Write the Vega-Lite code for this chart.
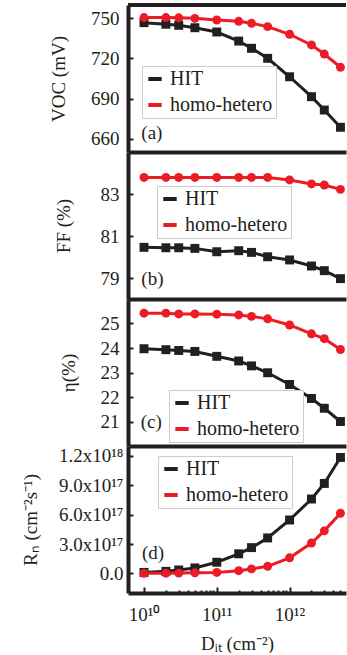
{
  "$schema": "https://vega.github.io/schema/vega-lite/v6.json",
  "padding": {"left": 20, "top": 3, "right": 0, "bottom": 0},
  "background": "white",
  "spacing": 0,
  "config": {
    "view": {"stroke": null},
    "font": "Liberation Serif",
    "style": {"guide-label": {"font": "Liberation Serif"}, "guide-title": {"font": "Liberation Serif"}},
    "axis": {"labelFont": "Liberation Serif", "titleFont": "Liberation Serif", "labelFontSize": 19, "titleFontSize": 19, "titleFontWeight": "normal", "labelColor": "#231f20", "titleColor": "#231f20", "domainColor": "#231f20", "domainWidth": 4, "tickColor": "#231f20", "tickWidth": 2, "grid": false, "labelOverlap": false},
    "legend": {"labelFont": "Liberation Serif", "labelFontSize": 20, "labelColor": "#231f20", "strokeColor": "#cccccc", "fillColor": "white", "padding": 3, "rowPadding": 6, "symbolType": "stroke", "symbolStrokeWidth": 4, "symbolSize": 180, "labelOffset": 5, "orient": "none"}
  },
  "datasets": {
    "voc": [
      {"dit": 1e10, "series": "HIT", "v": 746.8}, {"dit": 2e10, "series": "HIT", "v": 745.6}, {"dit": 3e10, "series": "HIT", "v": 744.8}, {"dit": 5e10, "series": "HIT", "v": 743.0}, {"dit": 1e11, "series": "HIT", "v": 739.8}, {"dit": 2e11, "series": "HIT", "v": 733.0}, {"dit": 3e11, "series": "HIT", "v": 727.6}, {"dit": 5e11, "series": "HIT", "v": 720.1}, {"dit": 1e12, "series": "HIT", "v": 706.3}, {"dit": 2e12, "series": "HIT", "v": 691.4}, {"dit": 3e12, "series": "HIT", "v": 681.4}, {"dit": 5e12, "series": "HIT", "v": 668.5},
      {"dit": 1e10, "series": "homo-hetero", "v": 750.6}, {"dit": 2e10, "series": "homo-hetero", "v": 750.6}, {"dit": 3e10, "series": "homo-hetero", "v": 750.4}, {"dit": 5e10, "series": "homo-hetero", "v": 750.0}, {"dit": 1e11, "series": "homo-hetero", "v": 748.8}, {"dit": 2e11, "series": "homo-hetero", "v": 747.8}, {"dit": 3e11, "series": "homo-hetero", "v": 746.3}, {"dit": 5e11, "series": "homo-hetero", "v": 743.8}, {"dit": 1e12, "series": "homo-hetero", "v": 738.1}, {"dit": 2e12, "series": "homo-hetero", "v": 730.1}, {"dit": 3e12, "series": "homo-hetero", "v": 723.3}, {"dit": 5e12, "series": "homo-hetero", "v": 713.4}
    ],
    "ff": [
      {"dit": 1e10, "series": "HIT", "v": 80.46}, {"dit": 2e10, "series": "HIT", "v": 80.44}, {"dit": 3e10, "series": "HIT", "v": 80.44}, {"dit": 5e10, "series": "HIT", "v": 80.41}, {"dit": 1e11, "series": "HIT", "v": 80.25}, {"dit": 2e11, "series": "HIT", "v": 80.30}, {"dit": 3e11, "series": "HIT", "v": 80.22}, {"dit": 5e11, "series": "HIT", "v": 80.01}, {"dit": 1e12, "series": "HIT", "v": 79.86}, {"dit": 2e12, "series": "HIT", "v": 79.57}, {"dit": 3e12, "series": "HIT", "v": 79.35}, {"dit": 5e12, "series": "HIT", "v": 78.97},
      {"dit": 1e10, "series": "homo-hetero", "v": 83.79}, {"dit": 2e10, "series": "homo-hetero", "v": 83.79}, {"dit": 3e10, "series": "homo-hetero", "v": 83.79}, {"dit": 5e10, "series": "homo-hetero", "v": 83.79}, {"dit": 1e11, "series": "homo-hetero", "v": 83.79}, {"dit": 2e11, "series": "homo-hetero", "v": 83.79}, {"dit": 3e11, "series": "homo-hetero", "v": 83.79}, {"dit": 5e11, "series": "homo-hetero", "v": 83.79}, {"dit": 1e12, "series": "homo-hetero", "v": 83.67}, {"dit": 2e12, "series": "homo-hetero", "v": 83.48}, {"dit": 3e12, "series": "homo-hetero", "v": 83.43}, {"dit": 5e12, "series": "homo-hetero", "v": 83.22}
    ],
    "eta": [
      {"dit": 1e10, "series": "HIT", "v": 23.97}, {"dit": 2e10, "series": "HIT", "v": 23.93}, {"dit": 3e10, "series": "HIT", "v": 23.90}, {"dit": 5e10, "series": "HIT", "v": 23.86}, {"dit": 1e11, "series": "HIT", "v": 23.66}, {"dit": 2e11, "series": "HIT", "v": 23.47}, {"dit": 3e11, "series": "HIT", "v": 23.27}, {"dit": 5e11, "series": "HIT", "v": 22.99}, {"dit": 1e12, "series": "HIT", "v": 22.51}, {"dit": 2e12, "series": "HIT", "v": 21.94}, {"dit": 3e12, "series": "HIT", "v": 21.54}, {"dit": 5e12, "series": "HIT", "v": 21.0},
      {"dit": 1e10, "series": "homo-hetero", "v": 25.42}, {"dit": 2e10, "series": "homo-hetero", "v": 25.42}, {"dit": 3e10, "series": "homo-hetero", "v": 25.39}, {"dit": 5e10, "series": "homo-hetero", "v": 25.39}, {"dit": 1e11, "series": "homo-hetero", "v": 25.38}, {"dit": 2e11, "series": "homo-hetero", "v": 25.35}, {"dit": 3e11, "series": "homo-hetero", "v": 25.29}, {"dit": 5e11, "series": "homo-hetero", "v": 25.19}, {"dit": 1e12, "series": "homo-hetero", "v": 24.94}, {"dit": 2e12, "series": "homo-hetero", "v": 24.58}, {"dit": 3e12, "series": "homo-hetero", "v": 24.38}, {"dit": 5e12, "series": "homo-hetero", "v": 23.94}
    ],
    "rn": [
      {"dit": 1e10, "series": "HIT", "v": 1.0e16}, {"dit": 2e10, "series": "HIT", "v": 2.1e16}, {"dit": 3e10, "series": "HIT", "v": 3.5e16}, {"dit": 5e10, "series": "HIT", "v": 5.6e16}, {"dit": 1e11, "series": "HIT", "v": 1.14e17}, {"dit": 2e11, "series": "HIT", "v": 2.0e17}, {"dit": 3e11, "series": "HIT", "v": 2.63e17}, {"dit": 5e11, "series": "HIT", "v": 3.62e17}, {"dit": 1e12, "series": "HIT", "v": 5.45e17}, {"dit": 2e12, "series": "HIT", "v": 7.59e17}, {"dit": 3e12, "series": "HIT", "v": 9.18e17}, {"dit": 5e12, "series": "HIT", "v": 1.183e18},
      {"dit": 1e10, "series": "homo-hetero", "v": 1e15}, {"dit": 2e10, "series": "homo-hetero", "v": 2e15}, {"dit": 3e10, "series": "homo-hetero", "v": 3e15}, {"dit": 5e10, "series": "homo-hetero", "v": 6e15}, {"dit": 1e11, "series": "homo-hetero", "v": 1.0e16}, {"dit": 2e11, "series": "homo-hetero", "v": 2.8e16}, {"dit": 3e11, "series": "homo-hetero", "v": 4.6e16}, {"dit": 5e11, "series": "homo-hetero", "v": 7.2e16}, {"dit": 1e12, "series": "homo-hetero", "v": 1.59e17}, {"dit": 2e12, "series": "homo-hetero", "v": 3.10e17}, {"dit": 3e12, "series": "homo-hetero", "v": 4.34e17}, {"dit": 5e12, "series": "homo-hetero", "v": 6.14e17}
    ]
  },
  "resolve": {"scale": {"color": "independent"}, "legend": {"color": "independent"}},
  "vconcat": [
    {
      "width": 218, "height": 147,
      "data": {"name": "voc"},
      "layer": [
        {"mark": {"type": "line", "strokeWidth": 3},
         "encoding": {
           "x": {"field": "dit", "type": "quantitative", "scale": {"type": "log", "domain": [6.03e9, 5.96e12], "nice": false}, "axis": {"title": null, "labels": false, "ticks": false}},
           "y": {"field": "v", "type": "quantitative", "scale": {"domain": [650, 760], "nice": false, "zero": false}, "axis": {"title": "VOC (mV)", "values": [660, 690, 720, 750], "format": "d", "tickCount": 12, "tickSize": -5, "labelPadding": 14, "titleX": -70, "titleBaseline": "middle"}},
           "color": {"field": "series", "type": "nominal", "scale": {"domain": ["HIT", "homo-hetero"], "range": ["#231f20", "#ec1c24"]}, "legend": {"title": null, "symbolType": "stroke", "labelFont": "Liberation Serif", "labelFontSize": 20, "legendX": 14, "legendY": 61}}
         }},
        {"transform": [{"filter": "datum.series == 'HIT'"}],
         "mark": {"type": "square", "size": 80, "opacity": 1, "color": "#231f20"},
         "encoding": {"x": {"field": "dit", "type": "quantitative"}, "y": {"field": "v", "type": "quantitative"}}},
        {"transform": [{"filter": "datum.series == 'homo-hetero'"}],
         "mark": {"type": "circle", "size": 80, "opacity": 1, "color": "#ec1c24"},
         "encoding": {"x": {"field": "dit", "type": "quantitative"}, "y": {"field": "v", "type": "quantitative"}}},
        {"data": {"values": [{"label": "(a)"}]},
         "mark": {"type": "text", "align": "left", "baseline": "middle", "fontSize": 19, "font": "Liberation Serif", "color": "#231f20"},
         "encoding": {"x": {"datum": 9.2e9}, "y": {"datum": 664}, "text": {"field": "label"}}},
        {"data": {"values": [{"edge": "top"}]},
         "mark": {"type": "rule", "strokeWidth": 4, "color": "#231f20"},
         "encoding": {"y": {"datum": 760}}}
      ]
    },
    {
      "width": 218, "height": 147,
      "data": {"name": "ff"},
      "layer": [
        {"mark": {"type": "line", "strokeWidth": 3},
         "encoding": {
           "x": {"field": "dit", "type": "quantitative", "scale": {"type": "log", "domain": [6.03e9, 5.96e12], "nice": false}, "axis": {"title": null, "labels": false, "ticks": false}},
           "y": {"field": "v", "type": "quantitative", "scale": {"domain": [78, 85], "nice": false, "zero": false}, "axis": {"title": "FF (%)", "values": [79, 81, 83], "format": "d", "tickCount": 12, "tickSize": -5, "labelPadding": 14, "titleX": -65, "titleBaseline": "middle"}},
           "color": {"field": "series", "type": "nominal", "scale": {"domain": ["HIT", "homo-hetero"], "range": ["#231f20", "#ec1c24"]}, "legend": {"title": null, "symbolType": "stroke", "labelFont": "Liberation Serif", "labelFontSize": 20, "legendX": 29, "legendY": 34}}
         }},
        {"transform": [{"filter": "datum.series == 'HIT'"}],
         "mark": {"type": "square", "size": 80, "opacity": 1, "color": "#231f20"},
         "encoding": {"x": {"field": "dit", "type": "quantitative"}, "y": {"field": "v", "type": "quantitative"}}},
        {"transform": [{"filter": "datum.series == 'homo-hetero'"}],
         "mark": {"type": "circle", "size": 80, "opacity": 1, "color": "#ec1c24"},
         "encoding": {"x": {"field": "dit", "type": "quantitative"}, "y": {"field": "v", "type": "quantitative"}}},
        {"data": {"values": [{"label": "(b)"}]},
         "mark": {"type": "text", "align": "left", "baseline": "middle", "fontSize": 19, "font": "Liberation Serif", "color": "#231f20"},
         "encoding": {"x": {"datum": 9.2e9}, "y": {"datum": 78.95}, "text": {"field": "label"}}}
      ]
    },
    {
      "width": 218, "height": 147,
      "data": {"name": "eta"},
      "layer": [
        {"mark": {"type": "line", "strokeWidth": 3},
         "encoding": {
           "x": {"field": "dit", "type": "quantitative", "scale": {"type": "log", "domain": [6.03e9, 5.96e12], "nice": false}, "axis": {"title": null, "labels": false, "ticks": false}},
           "y": {"field": "v", "type": "quantitative", "scale": {"domain": [20, 26], "nice": false, "zero": false}, "axis": {"title": "\u03b7(%)", "values": [21, 22, 23, 24, 25], "format": "d", "tickCount": 12, "tickSize": -5, "labelPadding": 14, "titleX": -60, "titleBaseline": "middle"}},
           "color": {"field": "series", "type": "nominal", "scale": {"domain": ["HIT", "homo-hetero"], "range": ["#231f20", "#ec1c24"]}, "legend": {"title": null, "symbolType": "stroke", "labelFont": "Liberation Serif", "labelFontSize": 20, "legendX": 41, "legendY": 91}}
         }},
        {"transform": [{"filter": "datum.series == 'HIT'"}],
         "mark": {"type": "square", "size": 80, "opacity": 1, "color": "#231f20"},
         "encoding": {"x": {"field": "dit", "type": "quantitative"}, "y": {"field": "v", "type": "quantitative"}}},
        {"transform": [{"filter": "datum.series == 'homo-hetero'"}],
         "mark": {"type": "circle", "size": 80, "opacity": 1, "color": "#ec1c24"},
         "encoding": {"x": {"field": "dit", "type": "quantitative"}, "y": {"field": "v", "type": "quantitative"}}},
        {"data": {"values": [{"label": "(c)"}]},
         "mark": {"type": "text", "align": "left", "baseline": "middle", "fontSize": 19, "font": "Liberation Serif", "color": "#231f20"},
         "encoding": {"x": {"datum": 9.0e9}, "y": {"datum": 20.97}, "text": {"field": "label"}}}
      ]
    },
    {
      "width": 218, "height": 147,
      "data": {"name": "rn"},
      "resolve": {"axis": {"x": "independent"}},
      "layer": [
        {"mark": {"type": "line", "strokeWidth": 3},
         "encoding": {
           "x": {"field": "dit", "type": "quantitative", "scale": {"type": "log", "domain": [6.03e9, 5.96e12], "nice": false}, "axis": {"orient": "bottom", "title": "D\u1d62\u209c (cm\u207b\u00b2)", "values": [1e10, 1e11, 1e12], "tickCount": 12, "labelExpr": "'10' + (datum.value < 5e10 ? '\u00b9\u2070' : datum.value < 5e11 ? '\u00b9\u00b9' : '\u00b9\u00b2')", "tickSize": -6, "labelPadding": 18, "titlePadding": 10, "labelFlush": false}},
           "y": {"field": "v", "type": "quantitative", "scale": {"domain": [-2e17, 1.3e18], "nice": false, "zero": false}, "axis": {"title": "R\u2099 (cm\u207b\u00b2s\u207b\u00b9)", "values": [0, 3e17, 6e17, 9e17, 1.2e18], "tickCount": 12, "labelExpr": "datum.value == 0 ? '0.0' : datum.value >= 1e18 ? format(datum.value / 1e18, '.1f') + 'x10\u00b9\u2078' : format(datum.value / 1e17, '.1f') + 'x10\u00b9\u2077'", "tickSize": -5, "labelPadding": 10, "titleX": -98, "titleBaseline": "middle"}},
           "color": {"field": "series", "type": "nominal", "scale": {"domain": ["HIT", "homo-hetero"], "range": ["#231f20", "#ec1c24"]}, "legend": {"title": null, "symbolType": "stroke", "labelFont": "Liberation Serif", "labelFontSize": 20, "legendX": 30, "legendY": 10}}
         }},
        {"transform": [{"filter": "datum.series == 'HIT'"}],
         "mark": {"type": "square", "size": 80, "opacity": 1, "color": "#231f20"},
         "encoding": {
           "x": {"field": "dit", "type": "quantitative", "axis": {"orient": "bottom", "values": [2e10, 3e10, 4e10, 5e10, 6e10, 7e10, 8e10, 9e10, 2e11, 3e11, 4e11, 5e11, 6e11, 7e11, 8e11, 9e11, 2e12, 3e12, 4e12, 5e12], "tickCount": 40, "labels": false, "domain": false, "title": null, "tickSize": -3}},
           "y": {"field": "v", "type": "quantitative"}}},
        {"transform": [{"filter": "datum.series == 'homo-hetero'"}],
         "mark": {"type": "circle", "size": 80, "opacity": 1, "color": "#ec1c24"},
         "encoding": {"x": {"field": "dit", "type": "quantitative", "axis": null}, "y": {"field": "v", "type": "quantitative"}}},
        {"data": {"values": [{"label": "(d)"}]},
         "mark": {"type": "text", "align": "left", "baseline": "middle", "fontSize": 19, "font": "Liberation Serif", "color": "#231f20"},
         "encoding": {"x": {"datum": 9.4e9, "axis": null}, "y": {"datum": 2.04e17}, "text": {"field": "label"}}}
      ]
    }
  ]
}
